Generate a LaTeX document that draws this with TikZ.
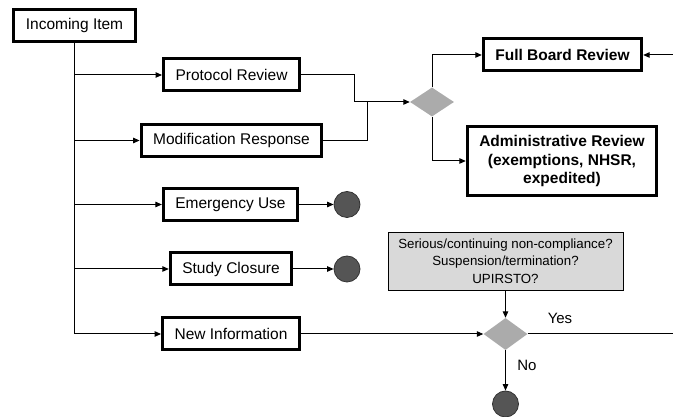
\documentclass[tikz,border=0pt]{standalone}
\usepackage{fontspec}
\setmainfont{Liberation Sans}
\usepackage{tikz}
\usetikzlibrary{positioning,arrows.meta,shapes.geometric}
\definecolor{querygray}{HTML}{D9D9D9}
\definecolor{choicegray}{HTML}{ABABAB}
\definecolor{stopgray}{HTML}{555555}

\begin{document}
\begin{tikzpicture}[x=1pt,y=1pt,
 flow/.style={-{Triangle[length=6.5pt,width=5.5pt]},line width=1pt},
 item/.style={draw,line width=3pt,fill=white,inner xsep=12pt,minimum height=32pt,
   font=\fontsize{15.5}{18.5}\selectfont,align=center},
 keyitem/.style={item,font=\fontsize{15.5}{18.5}\selectfont\bfseries},
 choice/.style={diamond,fill=choicegray,inner sep=0pt,minimum width=44pt,minimum height=29pt},
 stop/.style={circle,fill=stopgray,draw=black!80,line width=.8pt,minimum size=26pt,inner sep=0pt},
 query/.style={draw,line width=.8pt,fill=querygray,minimum width=235pt,minimum height=58pt,
   font=\fontsize{13.3}{17.5}\selectfont,align=center},
 lab/.style={font=\fontsize{15}{18}\selectfont}]
\useasboundingbox (0,0) rectangle (673,417);
% Left column of incoming items.
\node[item] (incoming) at (74.5,391.5) {Incoming Item};
\node[item] (protocol) at (231.5,342) {Protocol Review};
\node[item] (modif) at (231.5,276.5) {Modification Response};
\node[item] (emerg) at (230.5,212.5) {Emergency Use};
\node[item] (closure) at (231,148) {Study Closure};
\node[item] (newinfo) at (231,83) {New Information};
% Review paths.
\node[choice] (review) at (432,315) {};
\node[keyitem] (fullboard) at (562.5,362) {Full Board Review};
\node[keyitem,minimum height=69pt] (admin) at (562,256)
  {Administrative Review\\(exemptions, NHSR,\\expedited)};
% New information check.
\node[query] (question) at (505.5,156)
  {Serious/continuing non-compliance?\\Suspension/termination?\\UPIRSTO?};
\node[choice,minimum height=32pt] (check) at (505.5,83) {};
% End points.
\node[stop] (emergend) at (347,212.5) {};
\node[stop] (closureend) at (347,148) {};
\node[stop] (noend) at (505.5,13) {};
\coordinate (mergeA) at (354,315);
\coordinate (mergeB) at (367,315);
\coordinate (fbin) at (673,362);
\coordinate (yesout) at (673,83);
% Trunk and branches.
\draw[line width=1pt] (incoming.south) -- (incoming.south |- newinfo.west);
\foreach \n in {protocol,modif,emerg,closure,newinfo}
  \draw[flow] (incoming.south |- \n.west) -- (\n.west);
\draw[line width=1pt] (protocol.east) -| (mergeA);
\draw[line width=1pt] (modif.east) -| (mergeB);
\draw[flow] (mergeA) -- (review.west);
\draw[flow] (review.north) |- (fullboard.west);
\draw[flow] (review.south) |- (admin.west);
\draw[flow] (fbin) -- (fullboard.east);
\draw[flow] (emerg.east) -- (emergend.west);
\draw[flow] (closure.east) -- (closureend.west);
\draw[flow] (question.south) -- (check.north);
\draw[flow] (newinfo.east) -- (check.west);
\draw[line width=1pt] (check.east) -- (yesout);
\draw[flow] (check.south) -- (noend.north);
\node[lab] (yes) at (560,99) {Yes};
\node[lab] (no) at (527,52) {No};
\end{tikzpicture}
\end{document}
